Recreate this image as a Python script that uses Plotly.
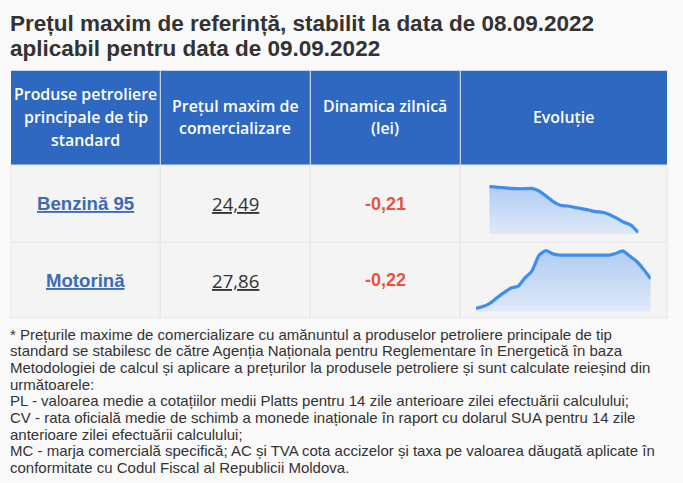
import plotly.graph_objects as go

W, H = 683, 483

title_lines = ["Prețul maxim de referință, stabilit la data de 08.09.2022",
               "aplicabil pentru data de 09.09.2022"]
header_lines = [["Produse petroliere", "principale de tip", "standard"],
                ["Prețul maxim de", "comercializare"],
                ["Dinamica zilnică", "(lei)"],
                ["Evoluție"]]
products = ["Benzină 95", "Motorină"]
prices = [24.49, 27.86]
changes = [-0.21, -0.22]
# evolutia pretului (lei)
benzina_evol = [25.86, 25.85, 25.83, 25.81, 25.80, 25.80, 25.81, 25.73, 25.58, 25.41, 25.30,
                25.28, 25.24, 25.20, 25.16, 25.11, 25.09, 25.02, 24.91, 24.79, 24.70, 24.49]
motorina_evol = [27.16, 27.20, 27.28, 27.41, 27.53, 27.64, 27.68, 27.88, 28.04, 28.41, 28.53,
                 28.45, 28.42, 28.42, 28.42, 28.42, 28.42, 28.42, 28.42, 28.42, 28.46, 28.52,
                 28.40, 28.27, 28.08, 27.86]
footnote_lines = [
    "* Prețurile maxime de comercializare cu amănuntul a produselor petroliere principale de tip",
    "standard se stabilesc de către Agenția Naționala pentru Reglementare în Energetică în baza",
    "Metodologiei de calcul și aplicare a prețurilor la produsele petroliere și sunt calculate reieșind din",
    "următoarele:",
    "PL - valoarea medie a cotațiilor medii Platts pentru 14 zile anterioare zilei efectuării calculului;",
    "CV - rata oficială medie de schimb a monede inaționale în raport cu dolarul SUA pentru 14 zile",
    "anterioare zilei efectuării calculului;",
    "MC - marja comercială specifică; AC și TVA cota accizelor și taxa pe valoarea dăugată aplicate în",
    "conformitate cu Codul Fiscal al Republicii Moldova.",
]

# geometrie tabel (pixeli)
col_x = [11, 160.3, 310.3, 460.3, 667]
head_top, head_bot = 70.7, 165
row_y = [165, 242.3, 318]
# sparkline: x stanga, x dreapta, y linie max, y linie min, y baza
spark_box = [(489.3, 638.3, 186.7, 232.3, 234.0),
             (476.0, 650.7, 250.5, 308.3, 311.5)]


def px(x):
    return x / W


def py(y):
    return 1 - y / H


def fmt(v):
    return f"{v:.2f}".replace(".", ",")


fig = go.Figure()
shapes = []
annotations = []

# header
shapes.append(dict(type="rect", xref="paper", yref="paper", x0=px(col_x[0]), x1=px(col_x[-1]),
                   y0=py(head_bot), y1=py(head_top), fillcolor="#2f68c0", line_width=0, layer="below"))
for x in col_x[1:-1]:
    shapes.append(dict(type="line", xref="paper", yref="paper", x0=px(x), x1=px(x),
                       y0=py(head_bot), y1=py(head_top), line=dict(color="#e4eaf5", width=1), layer="below"))

# celule
for r in range(len(products)):
    for c in range(len(col_x) - 1):
        shapes.append(dict(type="rect", xref="paper", yref="paper", x0=px(col_x[c]), x1=px(col_x[c + 1]),
                           y0=py(row_y[r + 1]), y1=py(row_y[r]), fillcolor="#f4f4f4",
                           line=dict(color="#e6e6e6", width=1), layer="below"))

# titlu
for i, line in enumerate(title_lines):
    annotations.append(dict(text=line, x=px(8), y=py(23.9 + 24.3 * i), xref="paper", yref="paper",
                            xanchor="left", yanchor="middle", showarrow=False,
                            font=dict(family="Liberation Sans, Arial", size=22.5, color="#333333", weight="bold")))

# text header
gap = 22.65
mid = 117.1
for c, lines in enumerate(header_lines):
    xc = (col_x[c] + col_x[c + 1]) / 2
    n = len(lines)
    for k, line in enumerate(lines):
        yc = mid + (k - (n - 1) / 2) * gap
        annotations.append(dict(text=line, x=px(xc), y=py(yc), xref="paper", yref="paper",
                                xanchor="center", yanchor="middle", showarrow=False,
                                font=dict(family="Open Sans", size=15.9, color="white", weight=600)))

# randuri
for r in range(len(products)):
    yc = (row_y[r] + row_y[r + 1]) / 2
    cells = [
        (products[r], dict(family="Liberation Sans, Arial", size=18.6, color="#3b6bb6", weight="bold", lineposition="under")),
        (fmt(prices[r]), dict(family="Open Sans", size=18.6, color="#333333", lineposition="under")),
        (fmt(changes[r]), dict(family="Liberation Sans, Arial", size=18, color="#e8553b", weight="bold")),
    ]
    for c, (txt, f) in enumerate(cells):
        xc = (col_x[c] + col_x[c + 1]) / 2
        annotations.append(dict(text=txt, x=px(xc), y=py(yc), xref="paper", yref="paper",
                                xanchor="center", yanchor="middle", showarrow=False, font=f))

# sparklines (gradient: 0 = jos, 1 = sus)
series = [benzina_evol, motorina_evol]
for i, vals in enumerate(series):
    x0, x1, t, b, f = spark_box[i]
    vmin, vmax = min(vals), max(vals)
    pad = (vmax - vmin) * (f - b) / (b - t)
    suffix = "" if i == 0 else str(i + 1)
    fig.add_trace(go.Scatter(
        x=list(range(len(vals))), y=vals, mode="lines",
        line=dict(color="#3e8ef0", width=3.2, shape="spline", smoothing=0.5),
        fill="tozeroy",
        fillgradient=dict(type="vertical", start=vmin - pad, stop=vmax,
                          colorscale=[[0, "#dfe9f8"], [1, "#b0ccf2"]]),
        xaxis="x" + suffix, yaxis="y" + suffix, hoverinfo="skip", showlegend=False,
    ))
    fig.update_layout({
        "xaxis" + suffix: dict(domain=[px(x0), px(x1)], range=[0, len(vals) - 1], visible=False,
                               anchor="y" + suffix),
        "yaxis" + suffix: dict(domain=[py(f), py(t - (f - b))], range=[vmin - pad, vmax + pad],
                               visible=False, anchor="x" + suffix),
    })

# nota
for i, line in enumerate(footnote_lines):
    annotations.append(dict(text=line, x=px(7.5), y=py(334 + 16.67 * i), xref="paper", yref="paper",
                            xanchor="left", yanchor="middle", showarrow=False,
                            font=dict(family="Liberation Sans, Arial", size=15, color="#333333")))

fig.update_layout(
    width=W, height=H,
    margin=dict(l=0, r=0, t=0, b=0),
    paper_bgcolor="#f9f9f9",
    plot_bgcolor="rgba(0,0,0,0)",
    shapes=shapes,
    annotations=annotations,
)

fig.write_html("out.html", config={"displayModeBar": False},
               post_script="document.body.style.margin='0';document.body.style.overflow='hidden';")
